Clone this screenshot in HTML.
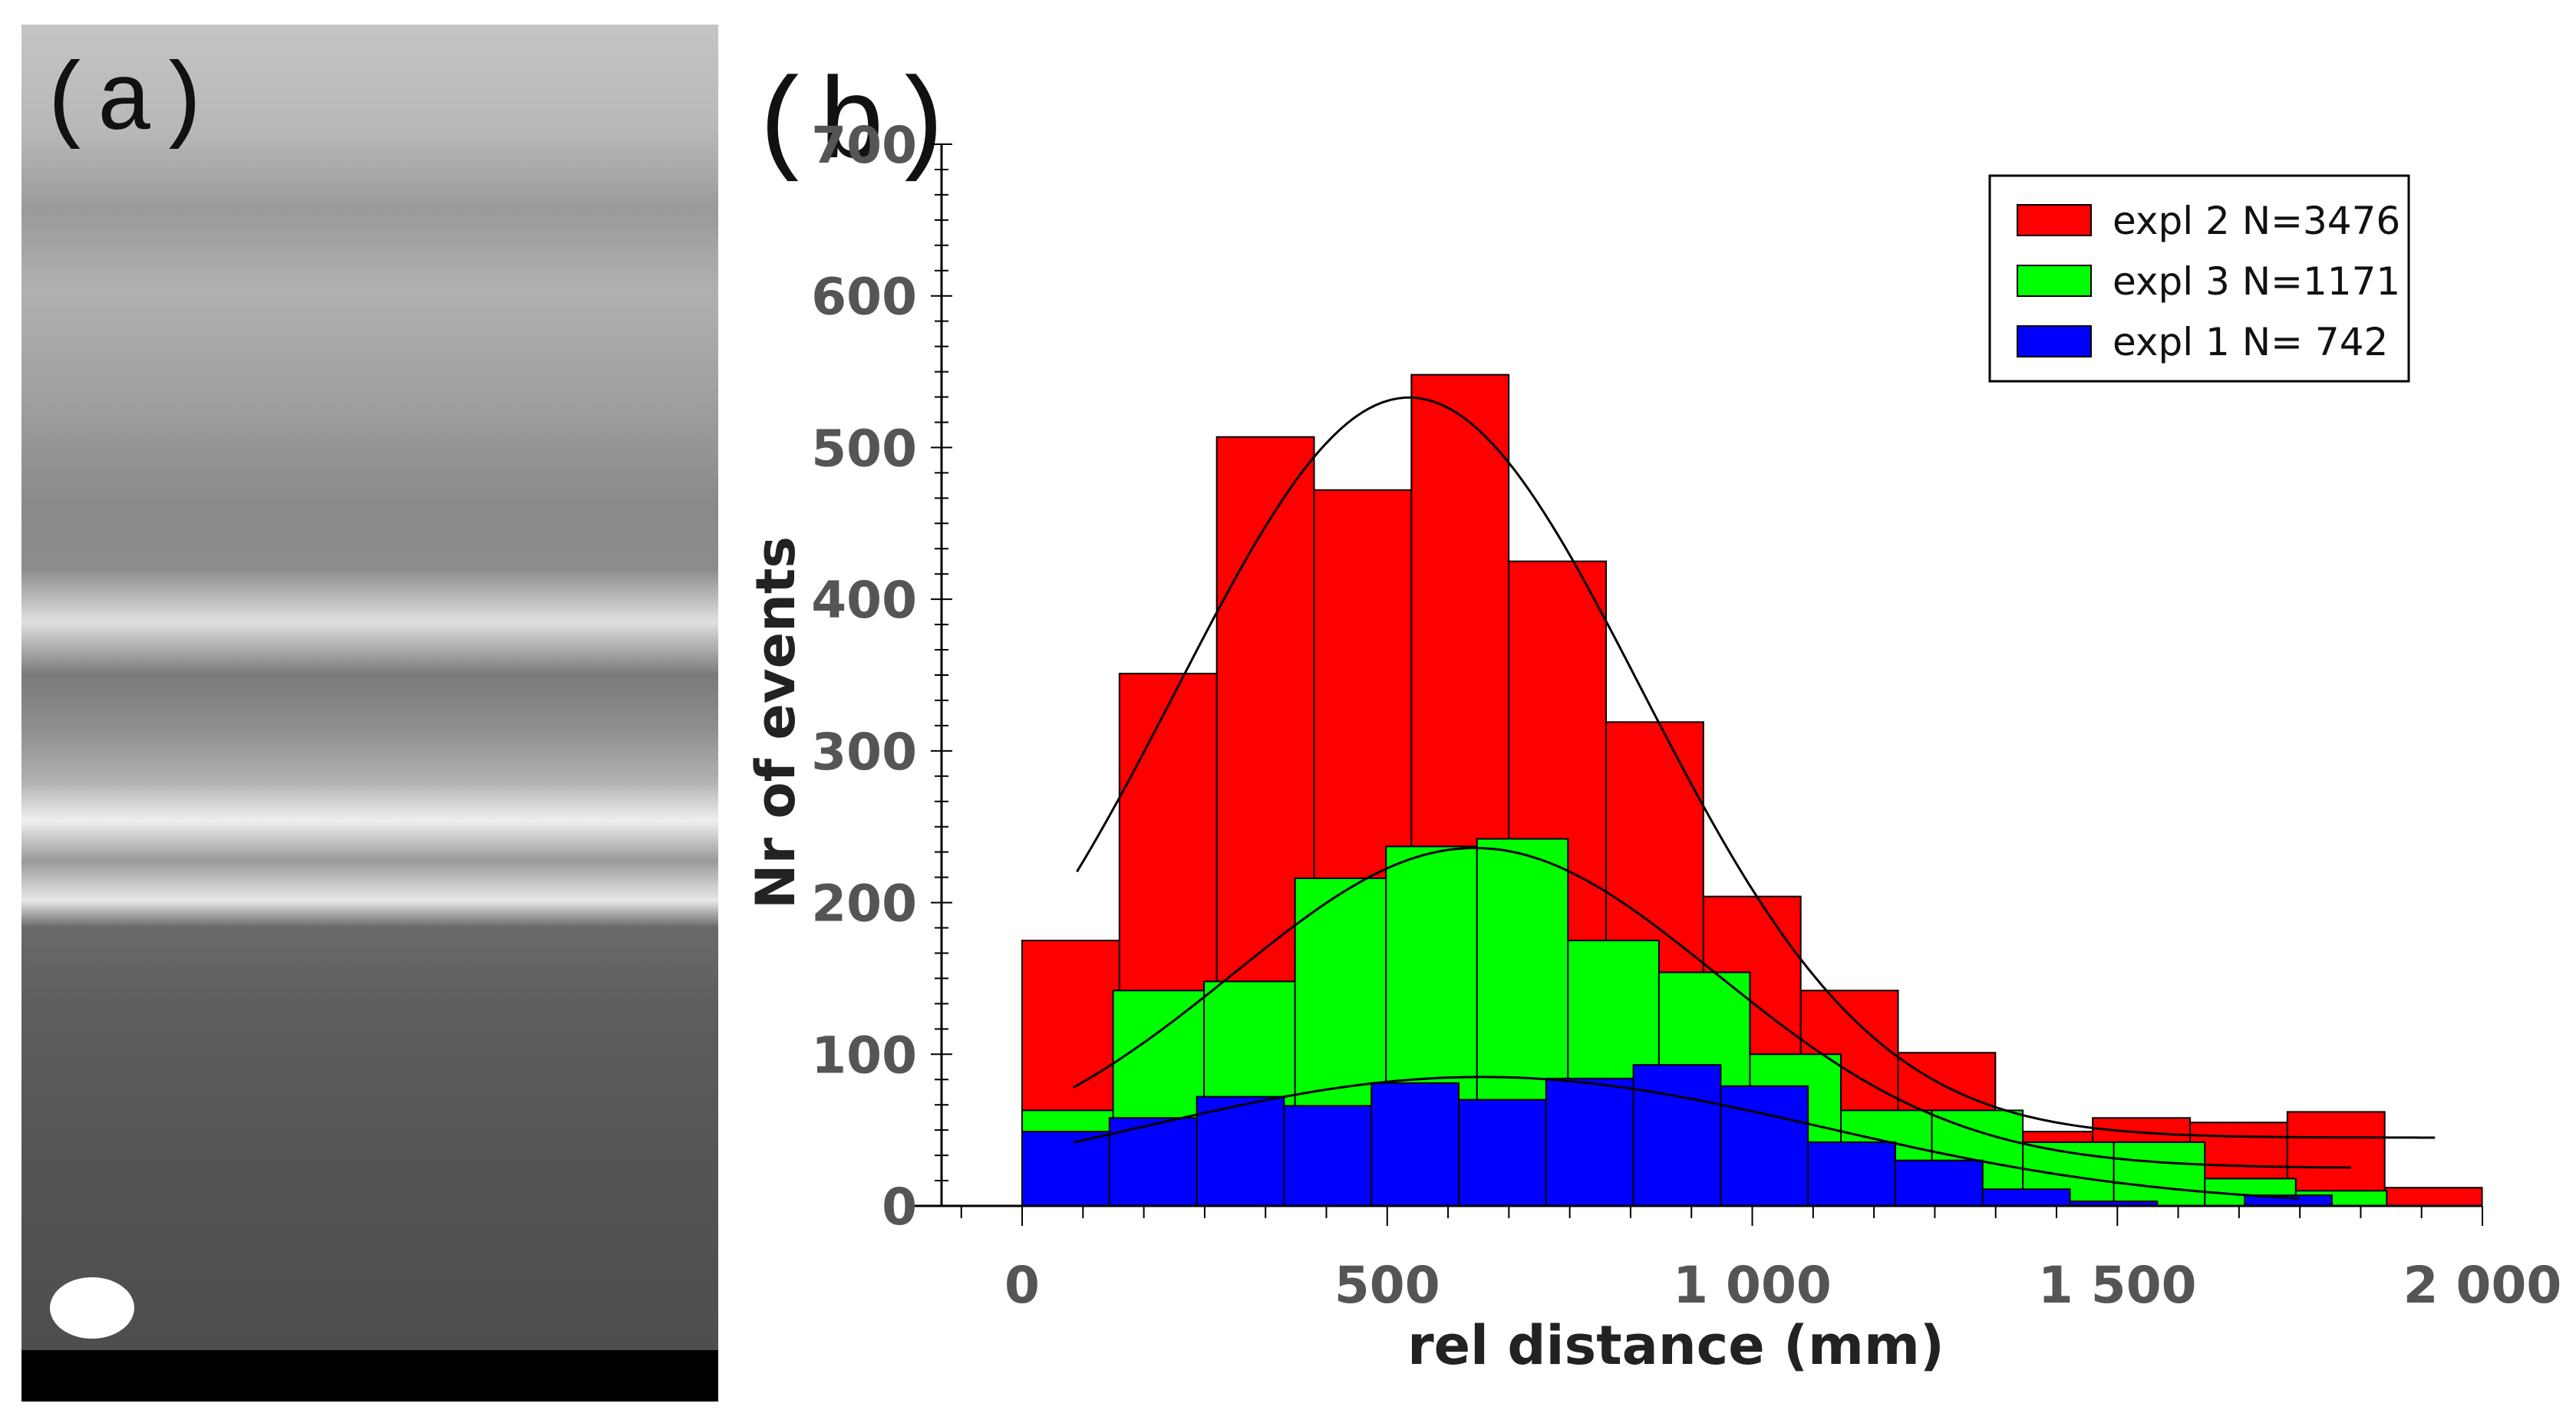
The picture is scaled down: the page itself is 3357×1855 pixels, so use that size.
<!DOCTYPE html>
<html><head><meta charset="utf-8"><style>
html,body{margin:0;padding:0;background:#fff;}
svg{display:block;}
</style></head><body>
<svg id="fig" width="3357" height="1855" viewBox="0 0 3357 1855" xmlns="http://www.w3.org/2000/svg">
<defs>
<linearGradient id="photoGrad" x1="0" y1="0" x2="0" y2="1">
<stop offset="0" stop-color="#c4c4c4"/>
<stop offset="0.08" stop-color="#b8b8b8"/>
<stop offset="0.14" stop-color="#9a9a9a"/>
<stop offset="0.2" stop-color="#b0b0b0"/>
<stop offset="0.28" stop-color="#a0a0a0"/>
<stop offset="0.36" stop-color="#8a8a8a"/>
<stop offset="0.41" stop-color="#8c8c8c"/>
<stop offset="0.45" stop-color="#e0e0e0"/>
<stop offset="0.49" stop-color="#7a7a7a"/>
<stop offset="0.53" stop-color="#8e8e8e"/>
<stop offset="0.57" stop-color="#b0b0b0"/>
<stop offset="0.6" stop-color="#efefef"/>
<stop offset="0.63" stop-color="#9a9a9a"/>
<stop offset="0.66" stop-color="#e8e8e8"/>
<stop offset="0.68" stop-color="#6a6a6a"/>
<stop offset="0.74" stop-color="#5e5e5e"/>
<stop offset="0.85" stop-color="#555"/>
<stop offset="1" stop-color="#4e4e4e"/>
</linearGradient>
</defs>
<g>
<rect x="28" y="32" width="908" height="1730" fill="url(#photoGrad)"/>
<rect x="28" y="1760" width="908" height="67" fill="#000"/>
<ellipse cx="120" cy="1705" rx="55" ry="40" fill="#fff"/>
<text x="50" y="168" font-family="'Liberation Mono', 'DejaVu Sans Mono', monospace" font-size="125" fill="#111">(a)</text>
</g>
<text x="975" y="205" font-family="'Liberation Mono', 'DejaVu Sans Mono', monospace" font-size="150" fill="#111">(b)</text>
<g id="chart"></g>
</svg>
<script>
const binStartsRed = 0, binWidthRed = 133.3;
const binStartsGreen = 0, binWidthGreen = 124.6;
const binStartsBlue = 0, binWidthBlue = 119.6;
const redValues = [175, 351, 507, 472, 548, 425, 319, 204, 142, 101, 49, 58, 55, 62, 12];
const greenValues = [63, 142, 148, 216, 237, 242, 175, 154, 100, 63, 63, 42, 42, 18, 10];
const blueValues = [49, 58, 72, 66, 81, 70, 84, 93, 79, 42, 30, 11, 3, 0, 7];
// gaussian fit params: [amplitude, mean, sigma, offset, xStart, xEnd]
const redFit = [488, 530, 318, 45, 75, 1940];
const greenFit = [211, 620, 331, 25, 70, 1820];
const blueFit = [85, 630, 470, 0, 70, 1750];
const xTicks = [0, 500, 1000, 1500, 2000];
const xTickLabels = ["0", "500", "1 000", "1 500", "2 000"];
const yTicks = [0, 100, 200, 300, 400, 500, 600, 700];
const legendLabels = ["expl 2 N=3476", "expl 3 N=1171", "expl 1 N= 742"];
const legendColors = ["#ff0000", "#00ff00", "#0000ff"];

const NS = "http://www.w3.org/2000/svg";
const g = document.getElementById('chart');
function X(v){ return 1332 + v * (3235 - 1332) / 2000; }
function Y(v){ return 1572 - v * (1572 - 188) / 700; }
function mk(tag, attrs, parent){ const e = document.createElementNS(NS, tag); for (const k in attrs) e.setAttribute(k, attrs[k]); (parent || g).appendChild(e); return e; }

function drawBars(vals, start, w, color, name){
  vals.forEach((v, i) => {
    if (v <= 0) return;
    const x0 = X(start + i * w), x1 = X(start + (i + 1) * w);
    const r = mk('rect', {x: x0, y: Y(v), width: x1 - x0, height: Y(0) - Y(v), fill: color, stroke: '#000', 'stroke-width': 2});
    
    
  });
}
drawBars(redValues, binStartsRed, binWidthRed, '#ff0000', 'expl2');
drawBars(greenValues, binStartsGreen, binWidthGreen, '#00ff00', 'expl3');
drawBars(blueValues, binStartsBlue, binWidthBlue, '#0000ff', 'expl1');

function drawFit(p, name){
  let d = '';
  for (let x = p[4]; x <= p[5]; x += 10) {
    const v = p[0] * Math.exp(-Math.pow(x - p[1], 2) / (2 * p[2] * p[2])) + p[3];
    d += (d ? 'L' : 'M') + X(x).toFixed(1) + ' ' + Y(v).toFixed(1);
  }
  const path = mk('path', {d: d, fill: 'none', stroke: '#000', 'stroke-width': 3});
  
  
}
drawFit(redFit, 'expl2');
drawFit(greenFit, 'expl3');
drawFit(blueFit, 'expl1');

const ya = mk('line', {x1: 1227, y1: 188, x2: 1227, y2: 1572, stroke: '#000', 'stroke-width': 3});


const xa = mk('line', {x1: 1190, y1: 1572, x2: 3235, y2: 1572, stroke: '#000', 'stroke-width': 3});



for (let v = -83.3; v <= 2001; v += 83.333) {
  const major = Math.abs(v / 500 - Math.round(v / 500)) < 0.01;
  const t = mk('line', {x1: X(v), y1: 1572, x2: X(v), y2: 1572 + (major ? 26 : 16), stroke: '#000', 'stroke-width': 2});
  
  
}
xTicks.forEach((v, i) => {
  const t = mk('text', {x: X(v), y: 1698, 'text-anchor': 'middle', 'font-family': 'DejaVu Sans, Liberation Sans, sans-serif', 'font-weight': 'bold', 'font-size': 66, fill: '#555'});
  t.textContent = xTickLabels[i];
  
  
});
for (let v = 0; v <= 700.1; v += 100 / 6) {
  const major = Math.abs(v / 100 - Math.round(v / 100)) < 0.01;
  const t = mk('line', {x1: 1227 - (major ? 14 : 9), y1: Y(v), x2: 1227 + (major ? 14 : 9), y2: Y(v), stroke: '#000', 'stroke-width': 2});
  
  
}
yTicks.forEach(v => {
  const t = mk('text', {x: 1195, y: Y(v) + 24, 'text-anchor': 'end', 'font-family': 'DejaVu Sans, Liberation Sans, sans-serif', 'font-weight': 'bold', 'font-size': 66, fill: '#555'});
  t.textContent = String(v);
  
  
});
const xt = mk('text', {x: 2184, y: 1778, 'text-anchor': 'middle', 'font-family': 'DejaVu Sans, Liberation Sans, sans-serif', 'font-weight': 'bold', 'font-size': 70, fill: '#222'});
xt.textContent = 'rel distance (mm)';


const yt = mk('text', {x: 0, y: 0, transform: 'translate(1035 942) rotate(-90)', 'text-anchor': 'middle', 'font-family': 'DejaVu Sans, Liberation Sans, sans-serif', 'font-weight': 'bold', 'font-size': 70, fill: '#222'});
yt.textContent = 'Nr of events';



const lg = mk('g', {});


const lb = mk('rect', {x: 2593, y: 229, width: 546, height: 268, fill: '#fff', stroke: '#000', 'stroke-width': 3}, lg);


legendLabels.forEach((lab, i) => {
  const cy = 287 + i * 79;
  const s = mk('rect', {x: 2629, y: cy - 20, width: 96, height: 40, fill: legendColors[i], stroke: '#000', 'stroke-width': 2}, lg);
  
  
  const t = mk('text', {x: 2753, y: cy + 18, 'font-family': 'DejaVu Sans, Liberation Sans, sans-serif', 'font-size': 50, fill: '#111'}, lg);
  t.textContent = lab;
  
  
});
</script>
</body></html>
